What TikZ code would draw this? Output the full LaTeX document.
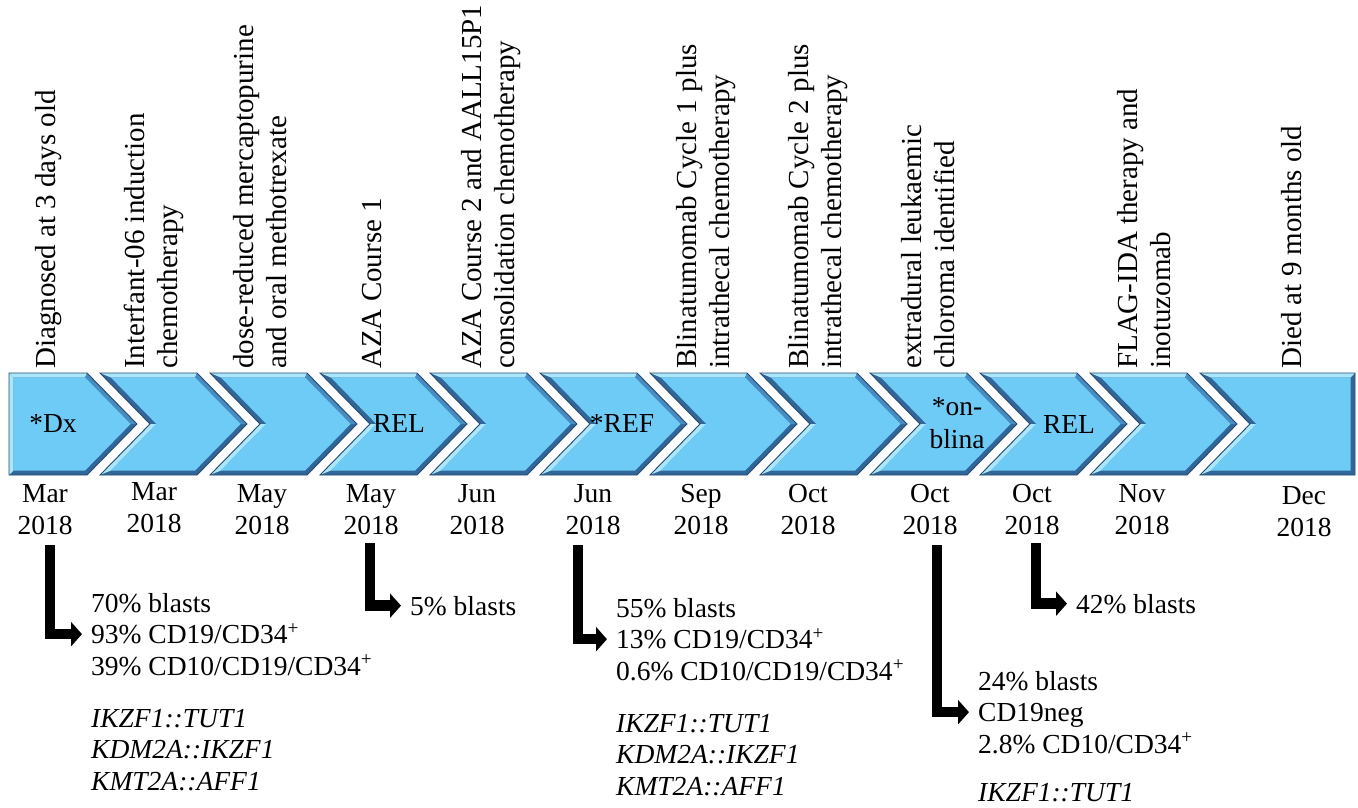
\documentclass[tikz,border=0pt]{standalone}
\usepackage{fontspec}
\setmainfont{Liberation Serif}
\usetikzlibrary{arrows.meta}
\definecolor{chevmain}{RGB}{110,203,246}
\definecolor{chevlight}{RGB}{170,230,252}
\definecolor{chevmid}{RGB}{70,140,192}
\definecolor{chevdark}{RGB}{48,102,152}
\definecolor{chevline}{RGB}{38,74,114}
\begin{document}
\begin{tikzpicture}[x=1pt,y=-1pt,
  rot/.style={rotate=90,anchor=base west,inner sep=0pt,align=left,font=\fontsize{29}{33}\selectfont},
  month/.style={anchor=base,inner sep=0pt,align=center,font=\fontsize{27.5}{31.5}\selectfont},
  chevlab/.style={anchor=base,inner sep=0pt,align=center,font=\fontsize{27.5}{33}\selectfont},
  stats/.style={anchor=base west,inner xsep=9pt,inner ysep=0pt,align=left,font=\fontsize{27.5}{31.5}\selectfont},
  genes/.style={anchor=base west,inner sep=0pt,align=left,font=\fontsize{27.5}{31.5}\selectfont\itshape},
  bent/.style={line width=10.5pt,line join=miter,-{Triangle[length=11pt,width=24pt]}},
  outline/.style={draw=chevline,line width=0.9pt,line join=miter},
]
\useasboundingbox (0,0) rectangle (1358,807);
\fill[white] (0,0) rectangle (1358,807);

% ---------- chevron band ----------
% first (flat left side)
\fill[chevdark] (9,373) -- (87,373) -- (137,424) -- (87,475) -- (9,475) -- cycle;
\fill[chevlight] (9,373) -- (87,373) -- (85.1,377.5) -- (13.5,377.5) -- cycle;
\fill[chevlight] (9,373) -- (13.5,377.5) -- (13.5,470.5) -- (9,475) -- cycle;
\fill[chevmid] (87,373) -- (137,424) -- (130.6,424) -- (85.1,377.5) -- cycle;
\fill[chevmain] (13.5,377.5) -- (85.1,377.5) -- (130.6,424) -- (85.1,470.5) -- (13.5,470.5) -- cycle;
\draw[outline] (9,373) -- (87,373) -- (137,424) -- (87,475) -- (9,475) -- cycle;

% middle chevrons
\foreach \k in {1,...,10}{
  \pgfmathsetmacro{\xo}{-10+110*\k}
  \begin{scope}[shift={(\xo,0)}]
    \fill[chevdark] (0,373) -- (97,373) -- (147,424) -- (97,475) -- (0,475) -- (50,424) -- cycle;
    \fill[chevlight] (0,373) -- (97,373) -- (95.1,377.5) -- (10.9,377.5) -- cycle;
    \fill[chevmid] (97,373) -- (147,424) -- (140.6,424) -- (95.1,377.5) -- cycle;
    \fill[chevlight] (50,424) -- (0,475) -- (10.9,470.5) -- (56.4,424) -- cycle;
    \fill[chevmain] (10.9,377.5) -- (95.1,377.5) -- (140.6,424) -- (95.1,470.5) -- (10.9,470.5) -- (56.4,424) -- cycle;
    \draw[outline] (0,373) -- (97,373) -- (147,424) -- (97,475) -- (0,475) -- (50,424) -- cycle;
  \end{scope}
}

% last (flat right side)
\fill[chevdark] (1200,373) -- (1355,373) -- (1355,475) -- (1200,475) -- (1250,424) -- cycle;
\fill[chevlight] (1200,373) -- (1355,373) -- (1350.5,377.5) -- (1210.9,377.5) -- cycle;
\fill[chevlight] (1250,424) -- (1200,475) -- (1210.9,470.5) -- (1256.4,424) -- cycle;
\fill[chevmain] (1210.9,377.5) -- (1350.5,377.5) -- (1350.5,470.5) -- (1210.9,470.5) -- (1256.4,424) -- cycle;
\draw[outline] (1200,373) -- (1355,373) -- (1355,475) -- (1200,475) -- (1250,424) -- cycle;

% ---------- chevron labels ----------
\node[chevlab] (c1) at (53,432) {*Dx};
\node[chevlab] (c4) at (399,432) {REL};
\node[chevlab] (c6) at (622,432) {*REF};
\node[chevlab] (c9) at (957,448) {*on-\\blina};
\node[chevlab] (c10) at (1069,433) {REL};

% ---------- rotated treatment labels (anchor on last line) ----------
\node[rot] (t1) at (55,369) {Diagnosed at 3 days old};
\node[rot] (t2) at (177,369) {Interfant-06 induction\\chemotherapy};
\node[rot] (t3) at (286,369) {dose-reduced mercaptopurine\\and oral methotrexate};
\node[rot] (t4) at (381,369) {AZA Course 1};
\node[rot] (t5) at (514,369) {AZA Course 2 and AALL15P1\\consolidation chemotherapy};
\node[rot] (t6) at (729,369) {Blinatumomab Cycle 1 plus\\intrathecal chemotherapy};
\node[rot] (t7) at (841,369) {Blinatumomab Cycle 2 plus\\intrathecal chemotherapy};
\node[rot] (t8) at (954,369) {extradural leukaemic\\chloroma identified};
\node[rot] (t9) at (1170,369) {FLAG-IDA therapy and\\inotuzomab};
\node[rot] (t10) at (1301,369) {Died at 9 months old};

% ---------- dates (anchor on last line) ----------
\node[month] (m1) at (45,534) {Mar\\2018};
\node[month] (m2) at (154,532) {Mar\\2018};
\node[month] (m3) at (262,534) {May\\2018};
\node[month] (m4) at (371,534) {May\\2018};
\node[month] (m5) at (477,534) {Jun\\2018};
\node[month] (m6) at (593,534) {Jun\\2018};
\node[month] (m7) at (701,534) {Sep\\2018};
\node[month] (m8) at (808,534) {Oct\\2018};
\node[month] (m9) at (930,534) {Oct\\2018};
\node[month] (m10) at (1032,534) {Oct\\2018};
\node[month] (m11) at (1142,534) {Nov\\2018};
\node[month] (m12) at (1304,536) {Dec\\2018};

% ---------- findings (anchor on last line) ----------
\node[stats] (s1) at (82,675) {70\% blasts\\93\% CD19/CD34\textsuperscript{+}\\39\% CD10/CD19/CD34\textsuperscript{+}};
\node[genes] (g1) at (91,790) {IKZF1::TUT1\\KDM2A::IKZF1\\KMT2A::AFF1};
\node[stats] (s2) at (401,615) {5\% blasts};
\node[stats] (s3) at (607,680) {55\% blasts\\13\% CD19/CD34\textsuperscript{+}\\0.6\% CD10/CD19/CD34\textsuperscript{+}};
\node[genes] (g3) at (616,795) {IKZF1::TUT1\\KDM2A::IKZF1\\KMT2A::AFF1};
\node[stats] (s4) at (969,753) {24\% blasts\\CD19neg\\2.8\% CD10/CD34\textsuperscript{+}};
\node[genes] (g4) at (978,801) {IKZF1::TUT1};
\node[stats] (s5) at (1067,613) {42\% blasts};

% ---------- bent arrows ----------
\coordinate (a1) at (50,545);
\coordinate (a2) at (370,543);
\coordinate (a3) at (578,545);
\coordinate (a4) at (937,545);
\coordinate (a5) at (1036,543);
\draw[bent] (a1) |- (s1.west);
\draw[bent] (a2) |- (s2.west);
\draw[bent] (a3) |- (s3.west);
\draw[bent] (a4) |- (s4.west);
\draw[bent] (a5) |- (s5.west);
\end{tikzpicture}
\end{document}
